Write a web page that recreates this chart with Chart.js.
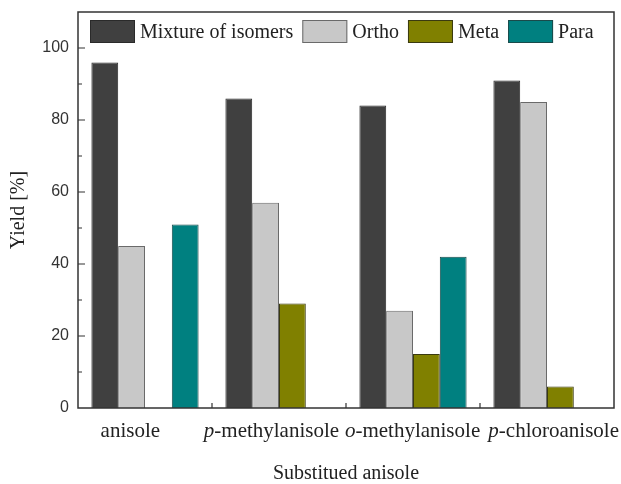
<!DOCTYPE html>
<html>
<head>
<meta charset="utf-8">
<script src="https://cdn.jsdelivr.net/npm/chart.js@4.4.1/dist/chart.umd.min.js"></script>
<style>
  html, body { margin: 0; padding: 0; background: #fff; }
</style>
</head>
<body>
<canvas id="yieldChart" width="621" height="484"></canvas>
<script>
const substrates = ['anisole', 'p-methylanisole', 'o-methylanisole', 'p-chloroanisole'];
const mixture = [96, 86, 84, 91];
const ortho = [45, 57, 27, 85];
const meta = [null, 29, 15, 6];
const para = [51, null, 42, null];
const yLabelled = [0, 20, 40, 60, 80, 100];

const serif = 'Liberation Serif';
const ink = '#222';

// frame, inward ticks, x labels with italic prefix, legend inside the frame
const decorations = {
  id: 'decorations',
  afterDraw(chart) {
    const { ctx, chartArea: a, scales: { x, y } } = chart;
    ctx.save();
    ctx.strokeStyle = '#333';
    ctx.lineWidth = 1.5;
    ctx.strokeRect(a.left, a.top, a.right - a.left, a.bottom - a.top);

    ctx.lineWidth = 1.2;
    ctx.beginPath();
    y.ticks.forEach(t => {
      if (t.value <= 0 || t.value >= y.max) return;
      const py = y.getPixelForValue(t.value);
      const len = yLabelled.includes(t.value) ? 7 : 4;
      ctx.moveTo(a.left, py);
      ctx.lineTo(a.left + len, py);
    });
    for (let i = 0; i < substrates.length - 1; i++) {
      const px = (x.getPixelForTick(i) + x.getPixelForTick(i + 1)) / 2;
      ctx.moveTo(px, a.bottom);
      ctx.lineTo(px, a.bottom - 5);
    }
    ctx.stroke();

    // category labels, spread a little wider than the groups as in the original
    const mid = (a.left + a.right) / 2;
    ctx.fillStyle = ink;
    ctx.textBaseline = 'alphabetic';
    ctx.textAlign = 'left';
    substrates.forEach((name, i) => {
      const m = name.match(/^([opm])(-.*)$/);
      const gx = x.getPixelForTick(i);
      const cx = gx + (gx - mid) * 0.053 - 4;
      const ly = a.bottom + 29;
      if (m) {
        ctx.font = 'italic 21px "' + serif + '"';
        const w1 = ctx.measureText(m[1]).width;
        ctx.font = '21px "' + serif + '"';
        const w2 = ctx.measureText(m[2]).width;
        const sx = cx - (w1 + w2) / 2;
        ctx.font = 'italic 21px "' + serif + '"';
        ctx.fillText(m[1], sx, ly);
        ctx.font = '21px "' + serif + '"';
        ctx.fillText(m[2], sx + w1, ly);
      } else {
        ctx.font = '21px "' + serif + '"';
        const w = ctx.measureText(name).width;
        ctx.fillText(name, cx - w / 2, ly);
      }
    });

    // legend
    let lx = a.left + 12;
    const ly = a.top + 8;
    const bw = 45, bh = 23;
    ctx.font = '20px "' + serif + '"';
    ctx.textBaseline = 'middle';
    chart.data.datasets.forEach(ds => {
      ctx.fillStyle = ds.backgroundColor;
      ctx.fillRect(lx, ly, bw, bh);
      ctx.strokeStyle = ds.borderColor;
      ctx.lineWidth = 1;
      ctx.strokeRect(lx + 0.5, ly + 0.5, bw - 1, bh - 1);
      ctx.fillStyle = ink;
      ctx.fillText(ds.label, lx + bw + 5, ly + bh / 2 + 1);
      lx += bw + 5 + ctx.measureText(ds.label).width + 9;
    });
    ctx.restore();
  }
};

new Chart(document.getElementById('yieldChart'), {
  type: 'bar',
  data: {
    labels: substrates,
    datasets: [
      { label: 'Mixture of isomers', data: mixture, backgroundColor: '#404040', borderColor: '#2a2a2a', borderWidth: 1 },
      { label: 'Ortho', data: ortho, backgroundColor: '#c8c8c8', borderColor: '#6a6a6a', borderWidth: 1 },
      { label: 'Meta', data: meta, backgroundColor: '#808000', borderColor: '#3a3a10', borderWidth: 1 },
      { label: 'Para', data: para, backgroundColor: '#008080', borderColor: '#1a4a4a', borderWidth: 1 }
    ]
  },
  options: {
    responsive: false,
    animation: false,
    devicePixelRatio: 1,
    layout: { padding: { top: 12, right: 7, left: 0, bottom: 0 } },
    datasets: { bar: { categoryPercentage: 0.8, barPercentage: 1 } },
    plugins: { legend: { display: false }, tooltip: { enabled: false } },
    scales: {
      x: {
        offset: true,
        grid: { display: false, drawTicks: false },
        border: { display: false },
        ticks: { display: false },
        title: {
          display: true, text: 'Substitued anisole', color: ink,
          font: { family: serif, size: 20, lineHeight: 1 },
          padding: { top: -4, bottom: 0 }
        },
        afterFit: s => { s.height = 76; s.paddingLeft = 0; s.paddingRight = 0; }
      },
      y: {
        min: 0, max: 110,
        grid: { display: false, drawTicks: false },
        border: { display: false },
        ticks: {
          stepSize: 10, padding: 9, color: '#333',
          font: { family: 'Liberation Sans', size: 16 },
          callback: v => yLabelled.includes(v) ? v : ''
        },
        title: {
          display: true, text: 'Yield [%]', color: ink,
          font: { family: serif, size: 20 },
          padding: { top: 7, bottom: 0 }
        },
        afterFit: s => { s.width = 78; s.paddingTop = 0; s.paddingBottom = 0; }
      }
    }
  },
  plugins: [decorations]
});
</script>
</body>
</html>
